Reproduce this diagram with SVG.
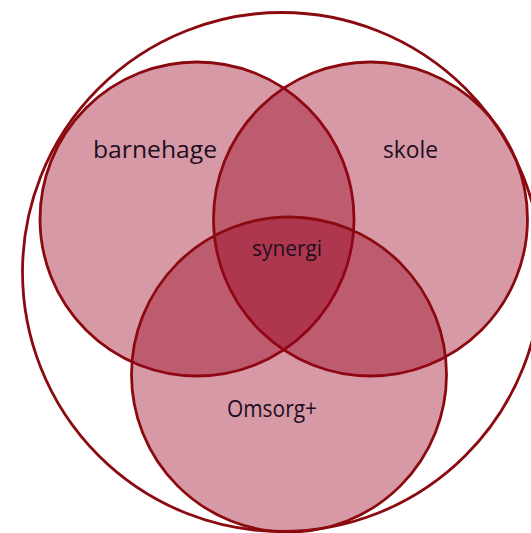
<svg xmlns="http://www.w3.org/2000/svg" width="531" height="533" viewBox="0 0 531 533">
<style>
.outer{fill:none;stroke:#8B0A10;stroke-width:2.8}
.set{fill:#99001F;fill-opacity:0.4;stroke:#8B0A10;stroke-width:2.8}
.lbl{font-family:"Open Sans","Noto Sans",sans-serif;fill:#1E0E22;text-anchor:middle}
</style>
<rect width="531" height="533" fill="#ffffff"/>
<g id="outer-circle"><circle class="outer" cx="282" cy="272" r="259.5"/></g>
<g id="connectors"/>
<g id="barnehage">
<circle class="set" cx="197" cy="219" r="157"/>
<text class="lbl" x="155" y="158" font-size="24" textLength="124" lengthAdjust="spacingAndGlyphs">barnehage</text>
</g>
<g id="skole">
<circle class="set" cx="370.5" cy="219" r="157"/>
<text class="lbl" x="410.5" y="158" font-size="24" textLength="55" lengthAdjust="spacingAndGlyphs">skole</text>
</g>
<g id="omsorg">
<circle class="set" cx="289" cy="374.5" r="157.5"/>
<text class="lbl" x="272" y="417" font-size="24" textLength="90" lengthAdjust="spacingAndGlyphs">Omsorg+</text>
</g>
<g id="synergi">
<text class="lbl" x="287" y="256" font-size="22" textLength="70" lengthAdjust="spacingAndGlyphs">synergi</text>
</g>
</svg>
